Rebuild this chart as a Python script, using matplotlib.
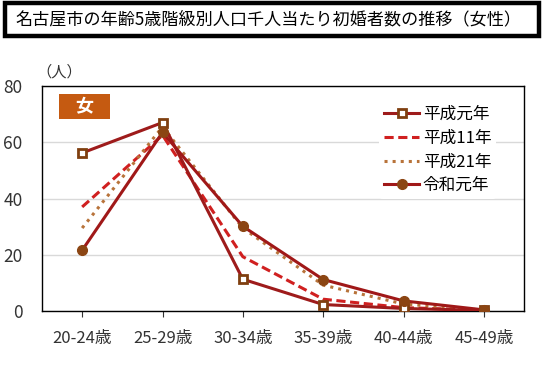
import matplotlib.pyplot as plt
from matplotlib.patches import Rectangle

plt.rcParams['font.family'] = ['Noto Sans CJK JP', 'DejaVu Sans']

ages = ['20-24歳', '25-29歳', '30-34歳', '35-39歳', '40-44歳', '45-49歳']
h01 = [56.2, 67.0, 11.3, 2.3, 0.9, 0.2]
h11 = [37.0, 62.5, 19.3, 4.2, 1.2, 0.3]
h21 = [29.5, 65.5, 29.5, 9.2, 2.5, 0.3]
r01 = [21.6, 63.5, 30.1, 11.2, 3.6, 0.4]

W, H = 544, 379
fig = plt.figure(figsize=(W / 100, H / 100), dpi=100)
ax = fig.add_axes([42 / W, 1 - 311 / H, (524 - 42) / W, (311 - 86) / H])

x = range(len(ages))
ax.plot(x, h01, '-', color='#9E1B1B', lw=2.2, marker='s', ms=6,
        mfc='white', mec='#7F3F0F', mew=2, label='平成元年', zorder=4)
ax.plot(x, h11, '--', color='#D02020', lw=2.2, dashes=(3, 1.5), label='平成11年', zorder=3)
ax.plot(x, h21, ':', color='#B8733A', lw=2.2, label='平成21年', zorder=3)
ax.plot(x, r01, '-', color='#A01818', lw=2.2, marker='o', ms=7,
        mfc='#8B4513', mec='#8B4513', label='令和元年', zorder=5)

ax.set_xlim(-0.5, 5.5)
ax.set_ylim(0, 80)
ax.set_yticks([0, 20, 40, 60, 80])
ax.set_xticks(list(x))
ax.set_xticklabels(ages)
ax.tick_params(axis='y', length=0, labelsize=12.5, pad=14, colors='#333333')
ax.tick_params(axis='x', length=4, labelsize=12, pad=10, colors='#333333')
ax.grid(axis='y', color='#d9d9d9', lw=1)
ax.set_axisbelow(True)
for s in ax.spines.values():
    s.set_color('black')
    s.set_linewidth(1)

leg = ax.legend(loc='upper right', bbox_to_anchor=(0.96, 0.97), frameon=True,
                fontsize=12, handlelength=2.1, handletextpad=0.2, labelspacing=0.4,
                borderpad=0.3)
leg.get_frame().set_edgecolor('none')
leg.get_frame().set_facecolor('white')
leg.get_frame().set_alpha(1)

# 女 label
fig.patches.append(Rectangle((59 / W, 1 - 119 / H), 51 / W, 25 / H,
                             transform=fig.transFigure, fc='#C55A11', ec='none'))
fig.text(84.5 / W, 1 - 106.5 / H, '女', color='white', fontsize=13,
         ha='center', va='center', weight='bold')

fig.text(36 / W, 1 - 72 / H, '（人）', fontsize=11, ha='left', va='center',
         color='#333333')

# title box
fig.patches.append(Rectangle((4.5 / W, 1 - 35.5 / H), 534 / W, 33 / H,
                             transform=fig.transFigure, fc='white', ec='black', lw=3.2))
fig.text(15 / W, 1 - 19 / H, '名古屋市の年齢5歳階級別人口千人当たり初婚者数の推移（女性）',
         fontsize=12.3, ha='left', va='center')

fig.savefig('out.png', dpi=100)
